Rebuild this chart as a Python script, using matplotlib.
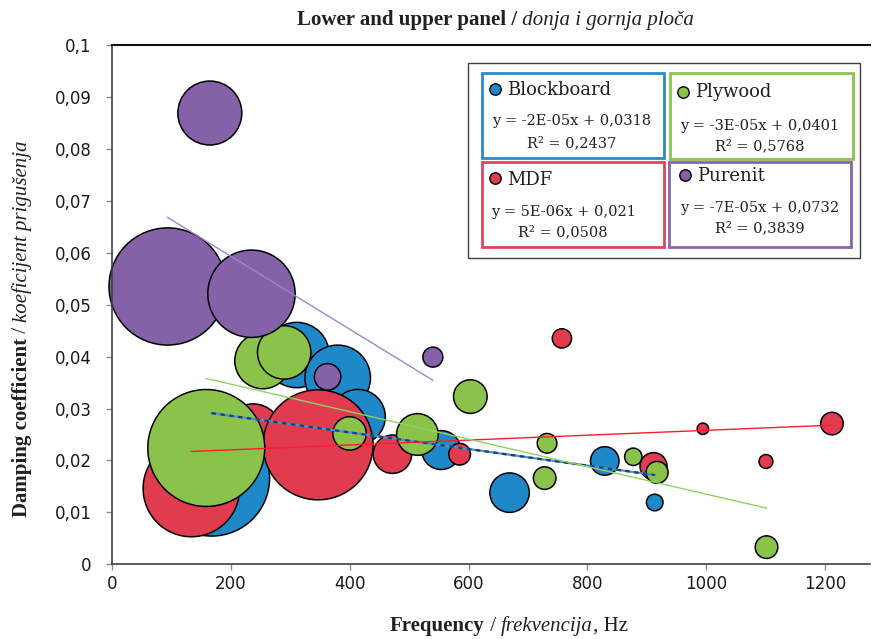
import numpy as np
import matplotlib
matplotlib.use('Agg')
import matplotlib.pyplot as plt
from matplotlib.patches import Rectangle
from matplotlib.lines import Line2D
from matplotlib.ticker import FuncFormatter

# bubble data: frequency (Hz), damping coefficient, bubble value
blue_x = [168, 311, 380, 414, 554, 669, 829, 913]
blue_y = [0.0166, 0.0403, 0.0359, 0.0284, 0.0220, 0.0138, 0.0199, 0.0119]
blue_size = [97.6, 31.0, 31.2, 21.8, 11.0, 11.3, 5.9, 2.0]

red_x = [134, 238, 347, 472, 585, 757, 911, 994, 1100, 1211]
red_y = [0.0146, 0.0255, 0.0230, 0.0212, 0.0212, 0.0435, 0.0189, 0.0261, 0.0198, 0.0271]
red_size = [67.7, 22.8, 87.8, 10.7, 3.4, 2.7, 5.3, 0.94, 1.4, 3.7]

green_x = [159, 254, 290, 400, 514, 603, 728, 732, 877, 917, 1101]
green_y = [0.0224, 0.0392, 0.0408, 0.0252, 0.0250, 0.0323, 0.0166, 0.0233, 0.0207, 0.0177, 0.0033]
green_size = [99.3, 22.8, 20.7, 8.1, 12.6, 8.2, 3.7, 2.8, 2.2, 3.5, 3.7]

purple_x = [94, 165, 235, 363, 540]
purple_y = [0.0535, 0.0869, 0.0521, 0.0361, 0.0399]
purple_size = [99.7, 29.7, 55.4, 5.1, 2.9]

# trend lines as drawn (slope, intercept)
trend_slope = {'Blockboard': -1.6e-5, 'MDF': 4.7e-6, 'Plywood': -2.65e-5, 'Purenit': -7.03e-5}
trend_icpt = {'Blockboard': 0.0318, 'MDF': 0.0211, 'Plywood': 0.0400, 'Purenit': 0.0734}

names = ['Blockboard', 'MDF', 'Plywood', 'Purenit']
eq_text = ['y = -2E-05x + 0,0318', 'y = 5E-06x + 0,021', 'y = -3E-05x + 0,0401', 'y = -7E-05x + 0,0732']
r2_text = ['R² = 0,2437', 'R² = 0,0508', 'R² = 0,5768', 'R² = 0,3839']

series = {
    'Blockboard': (blue_x, blue_y, blue_size),
    'MDF': (red_x, red_y, red_size),
    'Plywood': (green_x, green_y, green_size),
    'Purenit': (purple_x, purple_y, purple_size),
}
fill = {'Blockboard': '#1e88c8', 'MDF': '#e03b4e', 'Plywood': '#8bc34a', 'Purenit': '#8561a8'}
box_col = {'Blockboard': '#2a8ad0', 'MDF': '#e2445a', 'Plywood': '#8cc152', 'Purenit': '#8866aa'}

W, H = 873, 639
SCALE = 71.4  # points^2 per bubble unit

fig = plt.figure(figsize=(W / 100, H / 100), dpi=100)
ax = fig.add_axes([111.7 / W, 1 - 564.3 / H, (870 - 111.7) / W, 519.3 / H])

for n in names:
    x, y, s = series[n]
    ax.scatter(x, y, s=np.array(s) * SCALE, c=fill[n], edgecolors='black',
               linewidths=1.1, zorder=2, clip_on=False)

for n in names:
    x = series[n][0]
    xx = np.array([min(x), max(x)])
    yy = trend_slope[n] * xx + trend_icpt[n]
    if n == 'Blockboard':
        ax.plot(xx, yy, color='#4a90d0', lw=1.6, zorder=3)
        ax.plot(xx, yy, color='#1a3f70', lw=1.6, dashes=(2, 2), zorder=3)
    elif n == 'MDF':
        ax.plot(xx, yy, color='#ff1a30', lw=1.0, zorder=3)
    elif n == 'Plywood':
        ax.plot(xx, yy, color='#8fd460', lw=1.0, zorder=3)
    else:
        ax.plot(xx, yy, color='#a088c8', lw=1.0, zorder=3)

ax.set_xlim(0, 1275)
ax.set_ylim(0, 0.1)
ax.set_xticks(range(0, 1201, 200))
ax.set_yticks(np.arange(0, 0.1001, 0.01))
ax.yaxis.set_major_formatter(FuncFormatter(lambda v, p: ('%g' % round(v, 3)).replace('.', ',')))
ax.tick_params(direction='out', length=4.5, color='#8c8c8c', width=1,
               labelsize=12, labelcolor='#1a1a1a')
ax.tick_params(axis='y', pad=10)
ax.tick_params(axis='x', pad=3)
ax.spines['right'].set_visible(False)
ax.spines['left'].set_color('#404040')
ax.spines['bottom'].set_color('#404040')
ax.spines['left'].set_linewidth(1.2)
ax.spines['bottom'].set_linewidth(1.2)
ax.spines['top'].set_color('#111111')
ax.spines['top'].set_linewidth(1.5)


def fx(px):
    return px / W


def fy(py):
    return 1 - py / H


serif = 'Liberation Serif'
ink = '#231f20'
lab_fs = 15

# title
t1 = fig.text(fx(296.7), fy(25), 'Lower and upper panel /', family=serif,
              weight='bold', fontsize=lab_fs, color=ink, va='baseline')
ax.annotate(' donja i gornja ploča', xy=(1, 0), xycoords=t1, family=serif,
            style='italic', fontsize=lab_fs, color=ink, va='bottom', ha='left',
            annotation_clip=False)

# x label
x1 = fig.text(fx(390), fy(631), 'Frequency', family=serif, weight='bold',
              fontsize=lab_fs, color=ink, va='baseline')
x2 = ax.annotate(' / ', xy=(1, 0), xycoords=x1, family=serif, fontsize=lab_fs,
                 color=ink, va='bottom', ha='left', annotation_clip=False)
x3 = ax.annotate('frekvencija', xy=(1, 0), xycoords=x2, family=serif, style='italic',
                 fontsize=lab_fs, color=ink, va='bottom', ha='left', annotation_clip=False)
ax.annotate(', Hz', xy=(1, 0), xycoords=x3, family=serif, fontsize=lab_fs,
            color=ink, va='bottom', ha='left', annotation_clip=False)

# y label
y1 = fig.text(fx(32), fy(517), 'Damping coefficient', family=serif, weight='bold',
              fontsize=lab_fs, color=ink, rotation=90, ha='right', va='bottom')
y2 = ax.annotate(' / ', xy=(0, 1), xycoords=y1, family=serif, fontsize=lab_fs, rotation=90,
                 color=ink, va='bottom', ha='left', annotation_clip=False)
ax.annotate('koeficijent prigušenja', xy=(0, 1), xycoords=y2, family=serif,
            style='italic', fontsize=lab_fs, rotation=90, color=ink,
            va='bottom', ha='left', annotation_clip=False)

# legend
fig.add_artist(Rectangle((fx(468.3), fy(258.3)), fx(860) - fx(468.3), fy(63.3) - fy(258.3),
                         transform=fig.transFigure, fill=False, edgecolor='#404040', lw=1.0))
boxes = {
    'Blockboard': (481.7, 73.3, 664, 158.3),
    'Plywood': (670, 73.3, 852.7, 159),
    'MDF': (481.7, 161.7, 664, 246.7),
    'Purenit': (669.3, 161.7, 850.7, 246.7),
}
marker_pos = {'Blockboard': (495, 89.3), 'Plywood': (682.7, 91.7),
              'MDF': (495, 178.3), 'Purenit': (685, 175)}
name_pos = {'Blockboard': (506.7, 95), 'Plywood': (695, 97.3),
            'MDF': (506.7, 185), 'Purenit': (697.3, 180.7)}
eq_pos = {'Blockboard': (571.7, 125, 147.3), 'Plywood': (760, 130, 150.7),
          'MDF': (563.3, 216, 236.7), 'Purenit': (760, 211.7, 232.7)}
for i, n in enumerate(names):
    x0, y0, x1b, y1b = boxes[n]
    fig.add_artist(Rectangle((fx(x0), fy(y1b)), fx(x1b) - fx(x0), fy(y0) - fy(y1b),
                             transform=fig.transFigure, fill=False,
                             edgecolor=box_col[n], lw=2.0))
    mx, my = marker_pos[n]
    fig.add_artist(Line2D([fx(mx)], [fy(my)], transform=fig.transFigure, marker='o',
                          markersize=8.2, markerfacecolor=fill[n],
                          markeredgecolor='black', markeredgewidth=1.0, linestyle='none'))
    nx, ny = name_pos[n]
    fig.text(fx(nx), fy(ny), n, family='DejaVu Serif', fontsize=13,
             color=ink, va='baseline', ha='left')
    ex, e1, e2 = eq_pos[n]
    fig.text(fx(ex), fy(e1), eq_text[i], family='DejaVu Serif', fontsize=10.5,
             color=ink, va='baseline', ha='center')
    fig.text(fx(ex), fy(e2), r2_text[i], family='DejaVu Serif', fontsize=10.5,
             color=ink, va='baseline', ha='center')

fig.savefig('out.png', dpi=100)
